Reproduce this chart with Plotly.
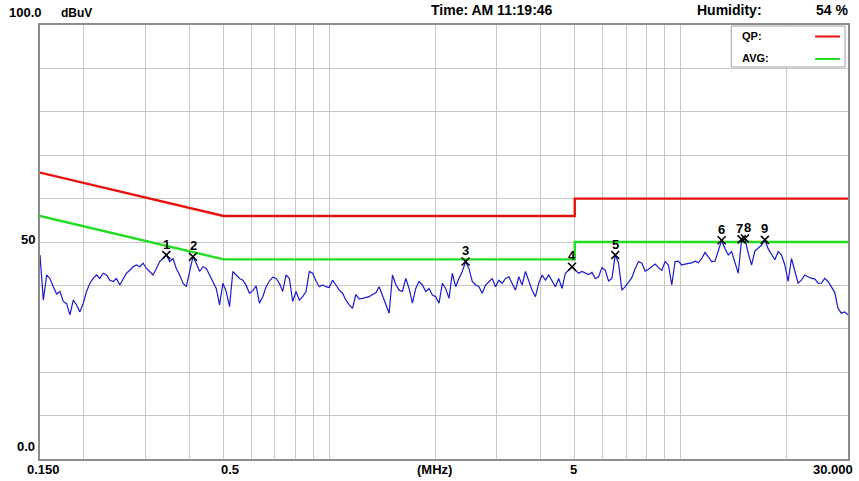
import numpy as np
import plotly.graph_objects as go

# Conducted emission scan, 0.15 - 30 MHz (level in dBuV)
scan_start_mhz = 0.15
scan_stop_mhz = 30.0
scan_level = [
    47.0, 36.6, 42.4, 41.6, 39.7, 38.0, 38.6, 36.3, 35.8, 33.2,
    36.6, 35.5, 33.9, 35.9, 38.6, 40.5, 41.6, 42.4, 41.6, 42.8,
    42.4, 41.2, 40.9, 41.6, 40.1, 41.6, 42.8, 43.5, 44.3, 44.7,
    44.3, 45.1, 43.9, 43.2, 42.4, 43.9, 45.5, 46.2, 47.0, 45.5,
    46.2, 43.9, 42.4, 40.5, 39.7, 43.2, 46.6, 45.1, 43.2, 44.3,
    43.9, 42.4, 40.9, 39.3, 35.5, 40.5, 38.6, 35.1, 43.2, 42.4,
    41.6, 41.2, 40.0, 38.2, 38.8, 39.9, 35.9, 37.4, 39.7, 41.0,
    41.9, 41.6, 40.5, 38.6, 42.4, 41.6, 36.3, 38.6, 36.6, 37.4,
    38.6, 43.2, 42.8, 41.0, 39.7, 40.1, 39.7, 39.5, 41.2, 40.1,
    38.9, 38.2, 36.6, 35.5, 34.7, 37.9, 36.9, 37.0, 37.2, 37.4,
    37.9, 38.3, 39.7, 37.8, 35.5, 33.6, 42.4, 40.2, 38.9, 38.6,
    41.6, 39.3, 35.9, 39.3, 40.9, 40.1, 38.6, 39.3, 37.8, 37.4,
    35.9, 40.5, 39.3, 37.0, 42.8, 39.7, 41.6, 43.2, 45.5, 43.9,
    40.9, 40.1, 39.7, 38.2, 40.1, 40.9, 41.6, 39.7, 41.2, 40.5,
    41.6, 42.0, 40.5, 38.9, 42.0, 40.1, 43.2, 41.2, 38.9, 37.4,
    40.5, 42.4, 41.2, 42.4, 40.9, 39.7, 41.6, 39.3, 42.8, 43.5,
    44.3, 43.5, 42.8, 43.2, 42.8, 42.5, 43.0, 41.6, 42.0, 44.1,
    43.5, 41.0, 41.6, 47.0, 45.1, 38.9, 39.7, 40.8, 41.8, 43.9,
    45.5, 45.1, 43.3, 43.7, 44.3, 44.9, 44.1, 43.5, 45.5, 44.7,
    40.1, 45.5, 45.6, 44.7, 44.9, 45.1, 45.2, 45.6, 45.2, 46.2,
    47.6, 46.6, 45.5, 45.6, 47.8, 50.4, 48.5, 47.0, 47.8, 45.5,
    42.8, 50.6, 50.8, 47.4, 44.7, 47.9, 48.7, 49.3, 50.5, 48.4,
    47.2, 45.9, 47.8, 47.0, 44.7, 40.9, 46.2, 43.5, 40.5, 41.2,
    42.4, 42.0, 41.6, 41.5, 40.5, 40.5, 41.6, 40.9, 39.5, 38.4,
    34.7, 33.6, 33.9, 33.2,
]
# sweep points are spaced logarithmically between start and stop
scan_freq = np.geomspace(scan_start_mhz, scan_stop_mhz, len(scan_level))

# Limit lines
qp_freq = [0.15, 0.5, 5, 5, 30]
qp_level = [66, 56, 56, 60, 60]
avg_freq = [0.15, 0.5, 5, 5, 30]
avg_level = [56, 46, 46, 50, 50]

# Peak markers (index into the sweep)
marker_labels = ["1", "2", "3", "4", "5", "6", "7", "8", "9"]
marker_index = [38, 46, 128, 160, 173, 205, 211, 212, 218]
marker_label_shift = [0, 1, 0, 0, 0, 0, -2, 3, 0]

grid_freqs = [0.2, 0.3, 0.4, 0.5, 0.6, 0.7, 0.8, 0.9, 1, 2, 3, 4, 5, 6, 7, 8, 9, 10, 20]

header_left = ["100.0", "dBuV"]
header_time = "Time: AM 11:19:46"
header_humidity = ["Humidity:", "54 %"]
y_labels = ["50", "0.0"]
x_labels = ["0.150", "0.5", "(MHz)", "5", "30.000"]
legend_names = ["QP:", "AVG:"]

W, H = 859, 481
L, R, T, B = 40, 850, 25, 459
FONT = "Liberation Sans"


def px(xp):
    return (xp - L) / (R - L)


def py(yp):
    return (B - yp) / (B - T)


fig = go.Figure()

fig.add_trace(go.Scatter(
    x=qp_freq, y=qp_level, mode="lines",
    line=dict(color="#e8120c", width=2.4), hoverinfo="skip", showlegend=False))
fig.add_trace(go.Scatter(
    x=avg_freq, y=avg_level, mode="lines",
    line=dict(color="#22dd22", width=2.4), hoverinfo="skip", showlegend=False))
fig.add_trace(go.Scatter(
    x=scan_freq, y=scan_level, mode="lines",
    line=dict(color="#1a1ad0", width=1.2), showlegend=False))

mk_x = [scan_freq[i] for i in marker_index]
mk_y = [scan_level[i] for i in marker_index]
fig.add_trace(go.Scatter(
    x=mk_x, y=mk_y, mode="markers",
    marker=dict(symbol="x-thin", size=8, line=dict(color="black", width=1.6)),
    showlegend=False))

annotations = []
for lab, xv, yv, sh in zip(marker_labels, mk_x, mk_y, marker_label_shift):
    annotations.append(dict(
        x=np.log10(xv), y=yv, xref="x", yref="y", text="<b>" + lab + "</b>",
        showarrow=False, yshift=11, xshift=sh,
        font=dict(family=FONT, size=13, color="black")))


def label(text, xc, yc, size=13, anchor="center"):
    annotations.append(dict(
        x=px(xc), y=py(yc), xref="paper", yref="paper", text="<b>" + text + "</b>",
        showarrow=False, xanchor=anchor, yanchor="middle",
        font=dict(family=FONT, size=size, color="black")))


label(header_left[0], 25, 13, 13)
label(header_left[1], 77, 13, 12)
label(header_time, 493, 10, 14)
label(header_humidity[0], 731, 10, 14)
label(header_humidity[1], 834, 10, 14)
label(y_labels[0], 28, 239, 13)
label(y_labels[1], 26, 446, 13)
label(x_labels[0], 44, 469, 13)
label(x_labels[1], 230, 469, 13)
label(x_labels[2], 435, 469, 13)
label(x_labels[3], 575, 469, 13)
label(x_labels[4], 835, 469, 13)
label(legend_names[0], 742, 36, 11, "left")
label(legend_names[1], 742, 58, 11, "left")

shapes = [
    dict(type="rect", xref="paper", yref="paper",
         x0=px(733), x1=px(847), y0=py(67), y1=py(26),
         fillcolor="white", line=dict(color="#a0a0a0", width=1), layer="above"),
    dict(type="line", xref="paper", yref="paper",
         x0=px(817), x1=px(842), y0=py(36.5), y1=py(36.5),
         line=dict(color="#e8120c", width=2), layer="above"),
    dict(type="line", xref="paper", yref="paper",
         x0=px(817), x1=px(842), y0=py(59), y1=py(59),
         line=dict(color="#22dd22", width=2), layer="above"),
]

fig.update_layout(
    width=W, height=H,
    margin=dict(l=L, r=W - R, t=T, b=H - B),
    paper_bgcolor="white", plot_bgcolor="white",
    annotations=annotations, shapes=shapes,
    xaxis=dict(type="log", range=[np.log10(0.15), np.log10(30)],
               tickvals=grid_freqs, showticklabels=False, ticks="",
               showgrid=True, gridcolor="#c8c8c8", gridwidth=1,
               showline=True, linecolor="#8c8c8c", linewidth=2, mirror=True,
               zeroline=False),
    yaxis=dict(range=[0, 100], dtick=10, showticklabels=False, ticks="",
               showgrid=True, gridcolor="#c8c8c8", gridwidth=1,
               showline=True, linecolor="#8c8c8c", linewidth=2, mirror=True,
               zeroline=False),
    hovermode=False,
)

fig.write_html("out.html")
